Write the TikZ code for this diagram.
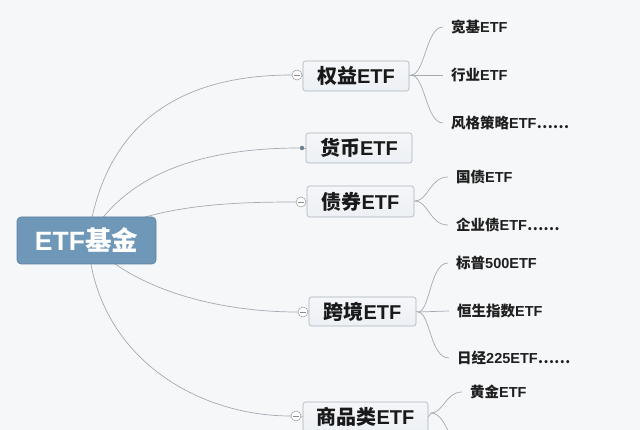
\documentclass[tikz,border=0pt]{standalone}
\usepackage{fontspec}
\setmainfont{Noto Sans CJK SC}
\newfontfamily\lat{Liberation Sans}
\newcommand{\E}{{\lat ETF}}
\definecolor{bg}{HTML}{F6F7F9}
\definecolor{rootblue}{HTML}{6F97B8}
\definecolor{boxfill}{HTML}{EDF0F4}
\definecolor{boxline}{HTML}{A9B3BC}
\definecolor{wire}{HTML}{A3ABB3}
\definecolor{dotc}{HTML}{6A8193}
\tikzset{
  rootbox/.style={draw=rootblue!85!black, line width=0.6pt, fill=rootblue, rounded corners=4pt,
    minimum width=139pt, minimum height=47pt, inner sep=0pt, text=white,
    font=\fontsize{26.5}{30}\selectfont\bfseries},
  topicbox/.style={draw=boxline, line width=0.6pt, top color=boxfill!60!white, bottom color=boxfill,
    rounded corners=2.5pt, minimum height=30pt, inner sep=0pt, text=black!90,
    font=\fontsize{20}{24}\selectfont\bfseries},
  leaf/.style={anchor=west, inner xsep=8pt, inner ysep=0pt, text=black!88,
    font=\fontsize{14.5}{17}\selectfont\bfseries},
  fold/.style={circle, draw=gray!80, fill=white, line width=0.5pt, minimum size=10pt, inner sep=0pt,
    path picture={\draw[gray!90, line width=0.5pt] ([xshift=-2.8pt]path picture bounding box.center) -- ([xshift=2.8pt]path picture bounding box.center);}},
  tinydot/.style={circle, fill=dotc, minimum size=4.5pt, inner sep=0pt},
  wire/.style={draw=wire, line width=0.7pt},
}
\begin{document}
\begin{tikzpicture}[x=1pt, y=-1pt]
\useasboundingbox (0,0) rectangle (640,430);
\clip (0,0) rectangle (640,430);
\fill[bg] (0,0) rectangle (640,430);

% topic boxes
\node[topicbox, minimum width=106pt] (qy) at (356,76) {权益\E};
\node[topicbox, minimum width=106pt] (hb) at (359,148) {货币\E};
\node[topicbox, minimum width=107pt, minimum height=31pt] (zq) at (360.5,201.5) {债券\E};
\node[topicbox, minimum width=107pt, minimum height=29pt] (kj) at (362.5,311.5) {跨境\E};
\node[topicbox, minimum width=125pt] (sp) at (365.5,417) {商品类\E};

% fold markers
\node[fold] (f1) at (297,75) {};
\node[tinydot] (f2) at (302,148) {};
\node[fold] (f3) at (301,202) {};
\node[fold] (f4) at (303,312) {};
\node[fold] (f5) at (296,416) {};

% leaves
\node[leaf] (l1) at (443,27) {宽基\E};
\node[leaf] (l2) at (443,75) {行业\E};
\node[leaf] (l3) at (443,123) {风格策略\E……};
\node[leaf] (l4) at (448,177) {国债\E};
\node[leaf] (l5) at (448,225) {企业债\E……};
\node[leaf] (l6) at (448,263) {标普{\lat 500}\E};
\node[leaf] (l7) at (449,311) {恒生指数\E};
\node[leaf] (l8) at (449,358) {日经{\lat 225}\E……};
\node[leaf] (l9) at (462,392) {黄金\E};

% branch origins
\coordinate (o1) at (411,75);
\coordinate (o3) at (415,201);
\coordinate (o4) at (418,312);
\coordinate (o5) at (431,413);
\coordinate (off) at (452,440);
\coordinate (o) at (88,240);

% root curves
\draw[wire] (o) .. controls (105,115) and (190,75) .. (f1.west);
\draw[wire] (o) .. controls (125,172) and (205,148) .. (f2.west);
\draw[wire] (o) .. controls (150,206) and (220,202) .. (f3.west);
\draw[wire] (o) .. controls (130,288) and (215,312) .. (f4.west);
\draw[wire] (o) .. controls (95,355) and (195,416) .. (f5.west);
\draw[wire] (f1.east) -- (qy.west);
\draw[wire] (f2.east) -- (hb.west);
\draw[wire] (f3.east) -- (zq.west);
\draw[wire] (f4.east) -- (kj.west);
\draw[wire] (f5.east) -- (sp.west);

% branch curves
\draw[wire] (qy.east) -- (o1);
\draw[wire] (o1) .. controls (425,75) and (426,27) .. (l1.west);
\draw[wire] (o1) -- (l2.west);
\draw[wire] (o1) .. controls (425,75) and (426,123) .. (l3.west);
\draw[wire] (zq.east) -- (o3);
\draw[wire] (o3) .. controls (428,201) and (430,177) .. (l4.west);
\draw[wire] (o3) .. controls (428,201) and (430,225) .. (l5.west);
\draw[wire] (kj.east) -- (o4);
\draw[wire] (o4) .. controls (430,312) and (430,263) .. (l6.west);
\draw[wire] (o4) -- (l7.west);
\draw[wire] (o4) .. controls (430,312) and (430,358) .. (l8.west);
\draw[wire] (sp.east) -- (o5);
\draw[wire] (o5) .. controls (443,413) and (446,392) .. (l9.west);
\draw[wire] (o5) .. controls (440,413) and (446,425) .. (off);

% root
\node[rootbox] (root) at (86.5,240.5) {\E 基金};
\end{tikzpicture}
\end{document}
